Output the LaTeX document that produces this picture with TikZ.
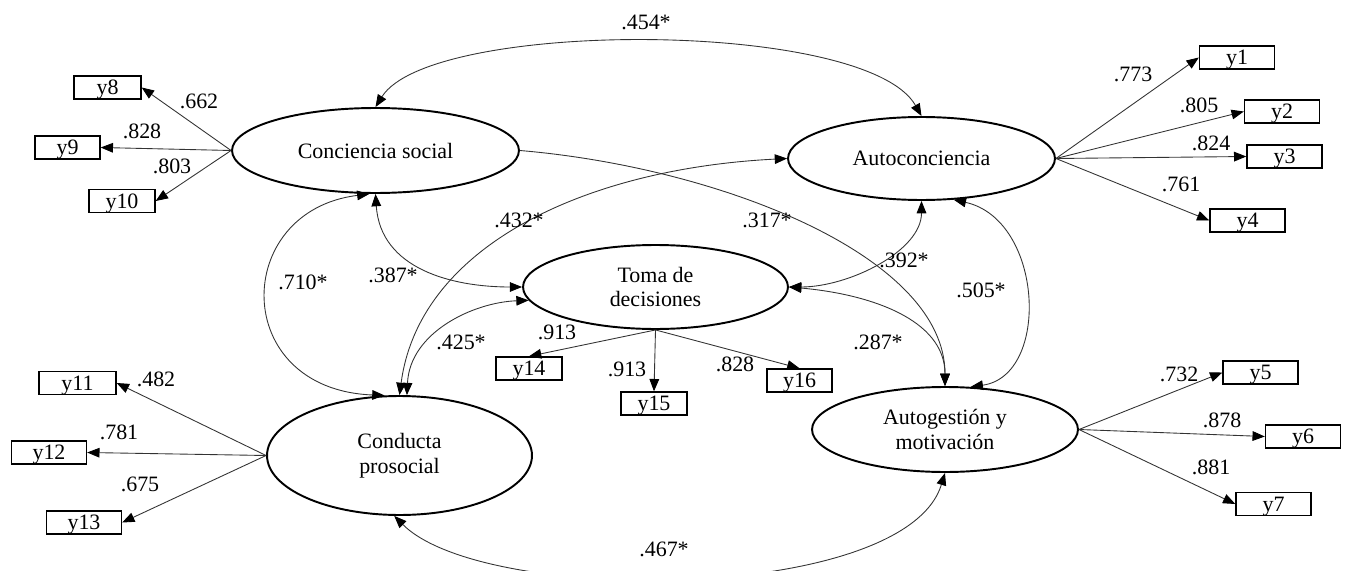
\documentclass[tikz,border=0pt]{standalone}
\usepackage{fontspec}
\setmainfont{Liberation Serif}
\usepackage{tikz}
\usetikzlibrary{shapes.geometric,arrows.meta}

\begin{document}
\begin{tikzpicture}[x=0.02cm, y=-0.02cm,
    every node/.style={font=\fontsize{12.5}{14}\selectfont},
    latent/.style={ellipse, draw, line width=1.1pt, inner sep=0pt, align=center},
    ind/.style={rectangle, draw, line width=0.8pt, minimum width=1.5cm, minimum height=0.46cm, inner sep=0pt, text depth=0pt},
    load/.style={-{Triangle[length=7pt,width=5.5pt,color=black]}, line width=0.5pt, black!80},
    corr/.style={{Triangle[length=7pt,width=5.5pt,color=black]}-{Triangle[length=7pt,width=5.5pt,color=black]}, line width=0.5pt, black!80}]
   % Frame (curve at the bottom runs off the page)
   \useasboundingbox (0,0) rectangle (1345,571);
   \clip (0,0) rectangle (1345,571);

   % Latent variables
   \node[latent, minimum width=5.74cm, minimum height=1.7cm] (cs) at (375.5,150.5) {Conciencia social};
   \node[latent, minimum width=5.34cm, minimum height=1.66cm] (ac) at (921.5,158.5) {Autoconciencia};
   \node[latent, minimum width=5.3cm, minimum height=1.68cm] (td) at (655.5,287) {Toma de\\decisiones};
   \node[latent, minimum width=5.3cm, minimum height=2.38cm] (cp) at (399.5,455.5) {Conducta\\prosocial};
   \node[latent, minimum width=5.32cm, minimum height=1.7cm] (ag) at (945,429.5) {Autogestión y\\motivación};

   % Indicators
   \node[ind] (y1) at (1237,57.5) {y1};
   \node[ind] (y2) at (1282,111.5) {y2};
   \node[ind] (y3) at (1284.5,156.5) {y3};
   \node[ind] (y4) at (1247.5,220.5) {y4};
   \node[ind] (y5) at (1260.5,372.5) {y5};
   \node[ind] (y6) at (1303,436.5) {y6};
   \node[ind] (y7) at (1273.5,504) {y7};
   \node[ind, minimum width=1.34cm] (y8) at (107.5,87.5) {y8};
   \node[ind, minimum width=1.3cm] (y9) at (67.5,147.5) {y9};
   \node[ind, minimum width=1.32cm] (y10) at (122,201) {y10};
   \node[ind, minimum width=1.54cm] (y11) at (77.5,383) {y11};
   \node[ind] (y12) at (49,452.5) {y12};
   \node[ind] (y13) at (84,522.5) {y13};
   \node[ind, minimum width=1.32cm] (y14) at (529,368.5) {y14};
   \node[ind, minimum width=1.32cm] (y15) at (654,403.5) {y15};
   \node[ind, minimum width=1.3cm] (y16) at (799.5,380.5) {y16};

   % Loadings
   \draw[load] (ac.east) -- (y1.west);
   \draw[load] (ac.east) -- (y2.west);
   \draw[load] (ac.east) -- (y3.west);
   \draw[load] (ac.east) -- (y4.west);
   \draw[load] (ag.east) -- (y5.west);
   \draw[load] (ag.east) -- (y6.west);
   \draw[load] (ag.east) -- (y7.west);
   \draw[load] (cs.west) -- (y8.east);
   \draw[load] (cs.west) -- (y9.east);
   \draw[load] (cs.west) -- (y10.east);
   \draw[load] (cp.west) -- (y11.east);
   \draw[load] (cp.west) -- (y12.east);
   \draw[load] (cp.west) -- (y13.east);
   \draw[load] (td.south) -- (y14.north);
   \draw[load] (td.south) -- (y15.north);
   \draw[load] (td.south) -- (y16.north);

   \node (w1) at (1133,74) {.773};
   \node (w2) at (1199,105) {.805};
   \node (w3) at (1211,143) {.824};
   \node (w4) at (1181,184) {.761};
   \node (w5) at (1179,374) {.732};
   \node (w6) at (1222,420) {.878};
   \node (w7) at (1211,467) {.881};
   \node (w8) at (199,101) {.662};
   \node (w9) at (142,131) {.828};
   \node (w10) at (172,166) {.803};
   \node (w11) at (156,379) {.482};
   \node (w12) at (119,432) {.781};
   \node (w13) at (140,484) {.675};
   \node (w14) at (557,332) {.913};
   \node (w15) at (627,369) {.913};
   \node (w16) at (735,364) {.828};

   % Correlations between factors
   \draw[corr] (cs.north) .. controls +(55,-88) and +(-55,-97) .. (ac.north);
   \draw[load] (cs.east) .. controls +(200,17) and +(0,-130) .. (ag.north);
   \draw[corr] (cp.north) .. controls +(20,-150) and +(-200,10) .. (ac.west);
   \draw[corr] (cs.262) .. controls +(-138,17) and +(-155,-6) .. (cp.104);
   \draw[corr] (cs.south) .. controls +(5,75) and +(-70,0) .. (td.west);
   \draw[corr] (cp.83) .. controls +(3,-63) and +(-55,2) .. (td.186);
   \draw[corr] (td.east) .. controls +(60,0) and +(0,50) .. (ac.south);
   \draw[corr] (td.east) .. controls +(80,7) and +(0,-67) .. (ag.north);
   \draw[corr] (ac.308) .. controls +(90,20) and +(80,-11) .. (ag.59);
   \draw[corr] (cp.265) .. controls +(90,90) and +(-40,130) .. (ag.south);

   \node (r1) at (646,22) {.454*};
   \node (r2) at (767,220) {.317*};
   \node (r3) at (519,220) {.432*};
   \node (r4) at (303,282) {.710*};
   \node (r5) at (393,275) {.387*};
   \node (r6) at (461,342) {.425*};
   \node (r7) at (904,260) {.392*};
   \node (r8) at (878,342) {.287*};
   \node (r9) at (981,290) {.505*};
   \node (r10) at (664,549) {.467*};
\end{tikzpicture}
\end{document}
